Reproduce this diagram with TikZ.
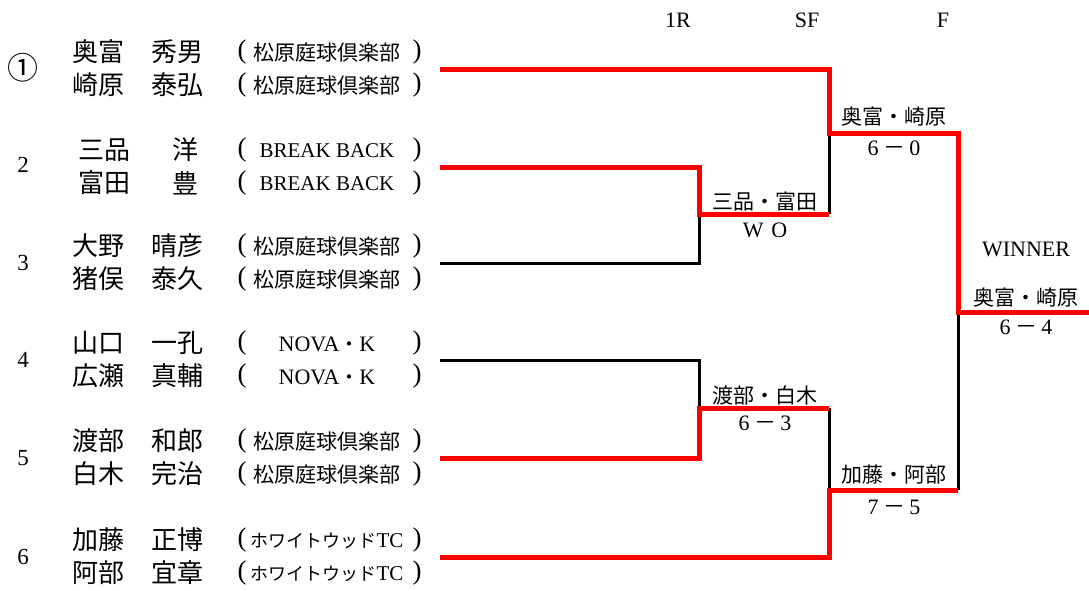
\documentclass[tikz,border=0pt]{standalone}
\usepackage{fontspec}
\setmainfont{Liberation Serif}
\newfontfamily\jp{Noto Sans CJK JP}
\newcommand\clubM{{\jp\fontsize{21}{21}\selectfont 松原庭球倶楽部}}
\newcommand\clubB{{\fontsize{21}{21}\selectfont BREAK BACK}}
\newcommand\clubN{{\fontsize{22}{22}\selectfont NOVA{\jp\fontsize{20}{20}\selectfont ・}K}}
\newcommand\clubW{{\jp\fontsize{18}{18}\selectfont ホワイトウッド}{\fontsize{21}{21}\selectfont TC}}
\begin{document}
\begin{tikzpicture}[x=1pt,y=-1pt,
  every node/.style={inner sep=0pt, outer sep=0pt},
  nm/.style={font=\jp\fontsize{26}{26}\selectfont},
  num/.style={font=\fontsize{23}{23}\selectfont},
  par/.style={font=\fontsize{27}{27}\selectfont},
  hd/.style={font=\fontsize{22}{22}\selectfont},
  lbl/.style={font=\jp\fontsize{21}{21}\selectfont},
  sc/.style={font=\fontsize{22}{22}\selectfont},
  win/.style={draw={rgb,255:red,255;green,0;blue,0}, line width=5pt, line join=miter},
  lose/.style={draw=black, line width=3pt, line join=miter}]
\useasboundingbox (0,0) rectangle (1089,590);
% headers
\node[hd] (h1) at (678,20) {1R};
\node[hd] (h2) at (807,20) {SF};
\node[hd] (h3) at (943,20) {F};
% seeds / numbers
\node[font=\jp\fontsize{31}{31}\selectfont] (n1) at (23,68) {①};
\node[num] (n2) at (23,165) {2};
\node[num] (n3) at (23,263) {3};
\node[num] (n4) at (23,360) {4};
\node[num] (n5) at (23,458) {5};
\node[num] (n6) at (23,557) {6};
% players
\foreach \i/\y/\a/\b/\c/\d/\club/\sx/\gx in {
  1/69/奥富/秀男/崎原/泰弘/\clubM/72/203,
  2/167/三品/洋/富田/豊/\clubB/78/198,
  3/263/大野/晴彦/猪俣/泰久/\clubM/72/203,
  4/360/山口/一孔/広瀬/真輔/\clubN/72/203,
  5/458/渡部/和郎/白木/完治/\clubM/72/203,
  6/557/加藤/正博/阿部/宜章/\clubW/72/203}{
  \node[nm, anchor=west] (p\i as) at (\sx,\y-17) {\a};
  \node[nm, anchor=east] (p\i ag) at (\gx,\y-17) {\b};
  \node[nm, anchor=west] (p\i bs) at (\sx,\y+16) {\c};
  \node[nm, anchor=east] (p\i bg) at (\gx,\y+16) {\d};
  \node[par] (p\i al) at (242,\y-17) {(};
  \node[par] (p\i ar) at (417,\y-17) {)};
  \node[par] (p\i bl) at (242,\y+16) {(};
  \node[par] (p\i br) at (417,\y+16) {)};
  \node (p\i ac) at (327,\y-16) {\club};
  \node (p\i bc) at (327,\y+17) {\club};
  \coordinate (e\i) at (440,\y);
}
% bracket junction coordinates
\coordinate (a2) at (699,167); \coordinate (a3) at (699,263); \coordinate (ma) at (699,214);
\coordinate (a4) at (699,360); \coordinate (a5) at (699,458); \coordinate (mb) at (699,408);
\coordinate (c1) at (829,69); \coordinate (ca) at (829,214); \coordinate (mc) at (829,133);
\coordinate (db) at (829,408); \coordinate (d6) at (829,557); \coordinate (md) at (829,490);
\coordinate (fc) at (958,133); \coordinate (fd) at (958,490); \coordinate (mf) at (958,312);
\coordinate (w) at (1089,312);
% losing paths
\draw[lose] (e3) -- (a3) -- (ma);
\draw[lose] (ca) -- (mc);
\draw[lose] (e4) -- (a4) -- (mb);
\draw[lose] (db) -- (md);
\draw[lose] (fd) -- (mf);
% winning paths
\draw[win] (e1) -- (c1) -- (mc) -- (fc) -- (mf) -- (w);
\draw[win] (e2) -- (a2) -- (ma) -- (ca);
\draw[win] (e5) -- (a5) -- (mb) -- (db);
\draw[win] (e6) -- (d6) -- (md) -- (fd);
% results
\node[lbl] (ra) at (765,202) {三品・富田};
\node[sc] (sa) at (765,230) {W\hspace{0.35em}O};
\node[lbl] (rb) at (765,395) {渡部・白木};
\node[sc] (sb) at (765,423) {6\hspace{0.2em}{\jp －}\hspace{0.2em}3};
\node[lbl] (rc) at (894,117) {奥富・崎原};
\node[sc] (sc) at (894,148) {6\hspace{0.2em}{\jp －}\hspace{0.2em}0};
\node[lbl] (rd) at (894,475) {加藤・阿部};
\node[sc] (sd) at (894,507) {7\hspace{0.2em}{\jp －}\hspace{0.2em}5};
\node[hd] (wl) at (1026,249) {WINNER};
\node[lbl] (rf) at (1026,298) {奥富・崎原};
\node[sc] (sf) at (1026,327) {6\hspace{0.2em}{\jp －}\hspace{0.2em}4};
\end{tikzpicture}
\end{document}
